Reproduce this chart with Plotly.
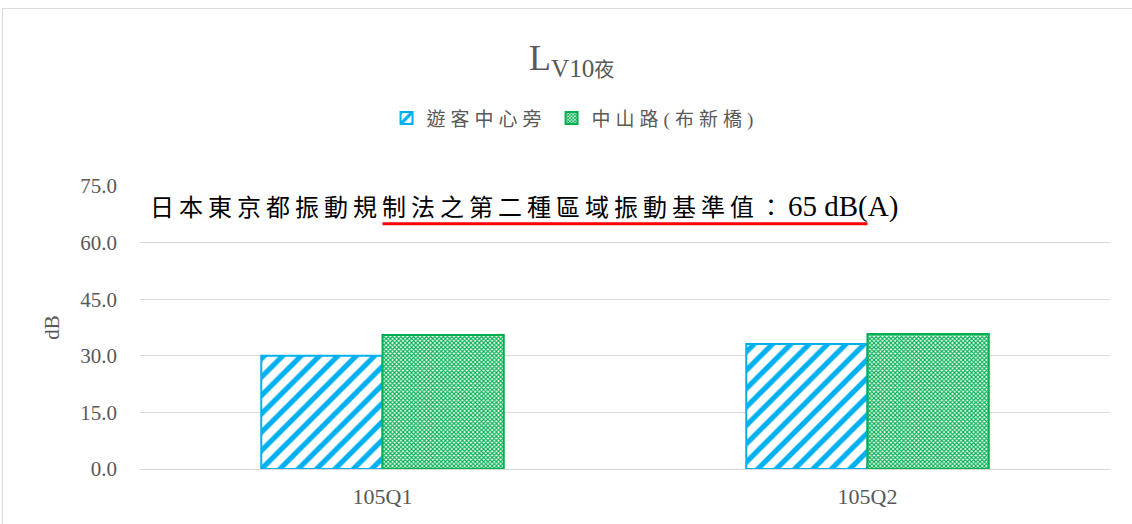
import plotly.graph_objects as go

categories = ["105Q1", "105Q2"]
series_names = ["遊客中心旁", "中山路(布新橋)"]
visitor_center = [30.0, 33.1]
zhongshan_rd = [35.5, 35.8]
standard_value = 65
y_ticks = [0, 15, 30, 45, 60, 75]

SERIF = "Liberation Serif, Noto Sans CJK TC"
GRAY = "#595959"
BLUE = "#00B0F0"
GREEN = "#00B050"


def spaced(txt, size, spacing):
    return f"<span style='font-size:{size}px;letter-spacing:{spacing}px'>{txt}</span>"


fig = go.Figure()
fig.add_trace(go.Bar(
    x=categories, y=visitor_center, name=spaced(series_names[0], 19, 5),
    marker=dict(color="white", line=dict(color=BLUE, width=2),
                pattern=dict(shape="/", fgcolor=BLUE, bgcolor="white", size=13,
                             solidity=0.4, fgopacity=1)),
))
fig.add_trace(go.Bar(
    x=categories, y=zhongshan_rd, name=spaced(series_names[1], 19, 5),
    marker=dict(color="white", line=dict(color=GREEN, width=2),
                pattern=dict(shape="x", fgcolor=GREEN, bgcolor="white", size=3,
                             solidity=0.62, fgopacity=1)),
))
fig.add_trace(go.Scatter(
    x=categories, y=[standard_value] * len(categories), mode="lines",
    line=dict(color="#FF0000", width=3), showlegend=False, hoverinfo="skip",
))

fig.add_annotation(
    xref="paper", yref="y", x=0.008, y=69.7, xanchor="left", yanchor="middle",
    text=spaced("日本東京都振動規制法之第二種區域振動基準值：", 24, 5) + f"{standard_value} dB(A)",
    showarrow=False, font=dict(family=SERIF, size=29, color="black"),
)

fig.add_shape(type="rect", xref="paper", yref="paper",
              x0=-0.1418, x1=1.035, y0=-0.23, y1=1.627,
              line=dict(color="#D9D9D9", width=1), fillcolor="rgba(0,0,0,0)", layer="below")

fig.update_layout(
    width=1132, height=524,
    margin=dict(l=140, r=22, t=186, b=55),
    paper_bgcolor="white", plot_bgcolor="white",
    barmode="group", bargap=0.5, bargroupgap=0,
    title=dict(text="L<sub>V10" + "<span style='font-size:20px'>夜</span></sub>",
               x=0.505, xref="container", y=1 - 57 / 524, yref="container",
               xanchor="center", yanchor="middle",
               font=dict(family=SERIF, size=36, color=GRAY)),
    legend=dict(orientation="h", x=0.508, xref="container", xanchor="center",
                y=1 - 118 / 524, yref="container", yanchor="middle",
                font=dict(family=SERIF, size=20, color=GRAY), itemwidth=30,
                traceorder="normal"),
    showlegend=True,
    font=dict(family=SERIF, color=GRAY),
)
fig.update_xaxes(
    showgrid=False, showline=False, ticks="",
    tickfont=dict(family=SERIF, size=22, color=GRAY), ticklabelstandoff=12,
)
fig.update_yaxes(
    range=[0, 75], tickvals=y_ticks, tickformat=".1f",
    showgrid=True, gridcolor="#D9D9D9", gridwidth=1, zeroline=True,
    zerolinecolor="#D9D9D9", zerolinewidth=1, showline=False, ticks="",
    tickfont=dict(family=SERIF, size=21, color=GRAY), ticklabelstandoff=22,
    title=dict(text="dB", font=dict(family=SERIF, size=21, color=GRAY), standoff=14),
)

fig.write_html("out.html", config={"displayModeBar": False},
               post_script="document.body.style.margin='0';")
